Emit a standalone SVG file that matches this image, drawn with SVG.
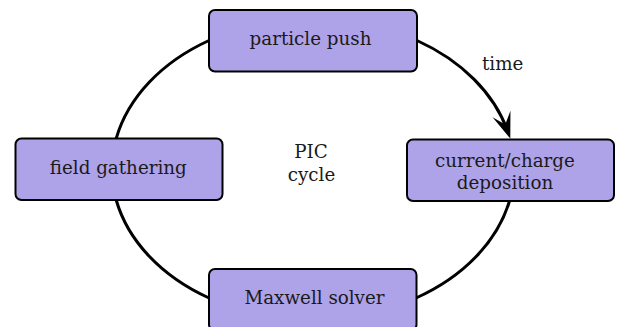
<svg xmlns="http://www.w3.org/2000/svg" width="629" height="327" viewBox="0 0 629 327">
  <style>
    .box { fill: #aea2e8; stroke: #000; stroke-width: 2; }
    .lbl { font-family: "DejaVu Serif", serif; font-size: 18.3px; fill: #1a1a1a; text-anchor: middle; }
    .arc { fill: none; stroke: #000; stroke-width: 3; }
  </style>
  <defs>
    <marker id="head" markerUnits="userSpaceOnUse" orient="auto" viewBox="-20 -11 30 22" markerWidth="30" markerHeight="22" refX="0" refY="0" overflow="visible">
      <path d="M8,0 L-18,-9.5 L-7,0 L-18,9.5 Z" fill="#000"/>
    </marker>
  </defs>
  <g id="connectors">
    <path class="arc" d="M116.2,138.5 A201,152 0 0 1 209,40.5"/>
    <path class="arc" d="M417,40.5 A201,152 0 0 1 507.6,131" marker-end="url(#head)"/>
    <path class="arc" d="M509.5,201 A201,152 0 0 1 416,298"/>
    <path class="arc" d="M209,298 A201,152 0 0 1 116.2,200"/>
  </g>
  <g id="node-particle-push">
    <rect class="box" x="209" y="10" width="208" height="61.5" rx="6"/>
    <text class="lbl" x="310.5" y="45">particle push</text>
  </g>
  <g id="node-field-gathering">
    <rect class="box" x="15.5" y="138.5" width="207" height="61.5" rx="6"/>
    <text class="lbl" x="118.3" y="174.3">field gathering</text>
  </g>
  <g id="node-current-charge">
    <rect class="box" x="407" y="139.5" width="207" height="61.5" rx="6"/>
    <text class="lbl" x="505" y="166.7">current/charge</text>
    <text class="lbl" x="505" y="189.3">deposition</text>
  </g>
  <g id="node-maxwell">
    <rect class="box" x="209" y="269" width="207.5" height="61.5" rx="6"/>
    <text class="lbl" x="314.5" y="304.3">Maxwell solver</text>
  </g>
  <g id="labels">
    <text class="lbl" x="311" y="157.7">PIC</text>
    <text class="lbl" x="311.5" y="181">cycle</text>
    <text class="lbl" x="502.7" y="70">time</text>
  </g>
</svg>
